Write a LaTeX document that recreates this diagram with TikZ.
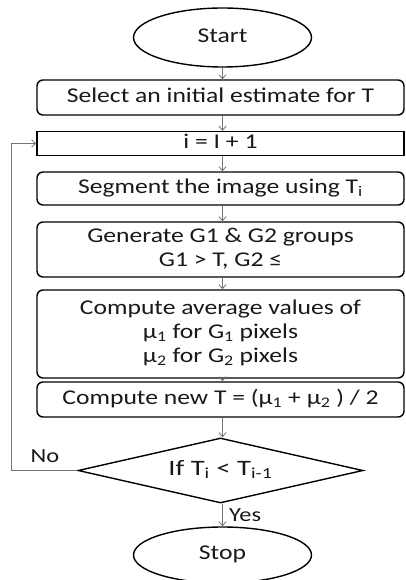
\documentclass[tikz,border=0pt]{standalone}
\usepackage{fontspec}
\usepackage{graphicx}
\setmainfont{Carlito}
\usetikzlibrary{shapes.geometric,arrows.meta}
\newcommand{\hs}[2][1.22]{\scalebox{#1}[1]{\begin{tabular}{@{}c@{}}#2\end{tabular}}}
\begin{document}
\begin{tikzpicture}[x=1pt,y=-1pt,
  every node/.style={font=\fontsize{21}{24}\selectfont, text=black!90, align=center, inner sep=0pt},
  boxr/.style={draw=black, line width=1.4pt, rounded corners=6pt, minimum width=367pt},
  boxs/.style={draw=black, line width=1.4pt, minimum width=367pt},
  term/.style={draw=black, line width=1.4pt, ellipse, minimum width=178pt},
  dec/.style={draw=black, line width=1.4pt, diamond, minimum width=285pt, minimum height=65pt, aspect=4.4, font=\fontsize{22}{24}\selectfont},
  conn/.style={draw=black!55, line width=0.8pt, -{Straight Barb[length=4pt,width=7pt]}},
  lab/.style={font=\fontsize{20}{22}\selectfont}
]
\fill[white] (0,0) rectangle (406,580);
\useasboundingbox (0,0) rectangle (406,580);
\node[term, minimum height=59pt] (start) at (222.5,37.5) {\hs{Start}};
\node[boxr, minimum height=35pt] (b1) at (220.5,97.5) {\hs{Select an initial estimate for T}};
\node[boxs, minimum height=23pt] (b2) at (220.5,143.5) {\hs{i = I + 1}};
\node[boxr, minimum height=33pt] (b3) at (220.5,188.5) {\hs{Segment the image using T\textsubscript{i}}};
\node[boxr, minimum height=55pt] (b4) at (220.5,249.5) {\hs{Generate G1 \& G2 groups\\G1 > T, G2 ≤}};
\node[boxr, minimum height=88pt] (b5) at (220.5,334) {\hs{Compute average values of\\μ\textsubscript{1} for G\textsubscript{1} pixels\\μ\textsubscript{2} for G\textsubscript{2} pixels}};
\node[boxr, minimum height=35pt] (b6) at (220.5,399.5) {\hs{Compute new T = (μ\textsubscript{1} + μ\textsubscript{2} ) / 2}};
\node[dec] (d) at (220.5,470.5) {\hs[1.3]{If T\textsubscript{i} < T\textsubscript{i-1}}};
\node[term, minimum height=56pt] (stop) at (222.5,555) {\hs{Stop}};
\coordinate (loop) at (11,470.5);
\draw[conn] (start.south) -- (start.south |- b1.north);
\draw[conn] (start.south |- b1.south) -- (start.south |- b2.north);
\draw[conn] (start.south |- b2.south) -- (start.south |- b3.north);
\draw[conn] (start.south |- b3.south) -- (start.south |- b4.north);
\draw[conn] (start.south |- b4.south) -- (start.south |- b5.north);
\draw[conn] (start.south |- b5.south) -- (start.south |- b6.north);
\draw[conn] (start.south |- b6.south) -- (start.south |- d.north);
\draw[conn] (start.south |- d.south) -- (stop.north);
\draw[conn] (d.west) -- (loop) |- (b2.west);
\node[lab, anchor=south] (no) at (45,469) {\hs{No}};
\node[lab, anchor=west] (yes) at (229,517) {\hs{Yes}};
\end{tikzpicture}
\end{document}
